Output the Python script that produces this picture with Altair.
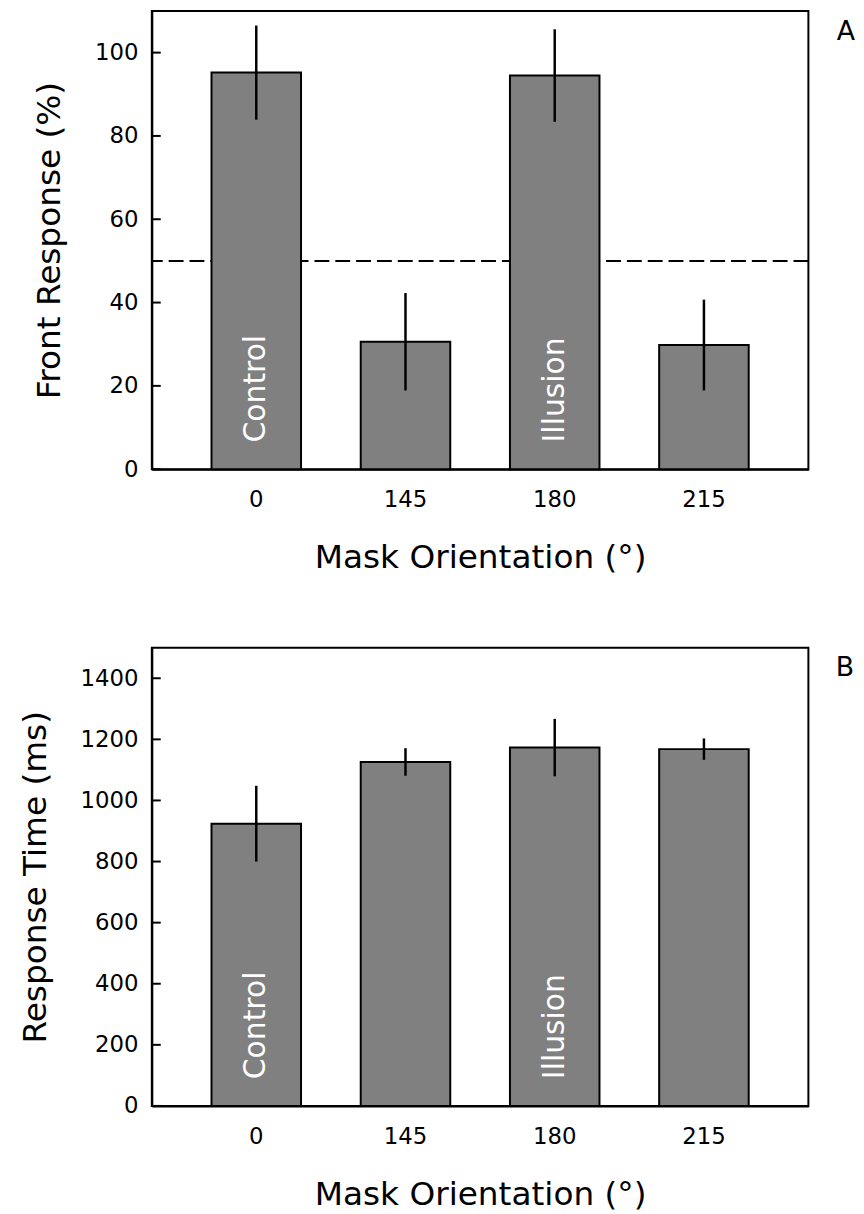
import altair as alt
import pandas as pd

orientation = ["0", "145", "180", "215"]
bar_labels = ["Control", "", "Illusion", ""]
front_mean = [95.2, 30.6, 94.5, 29.8]
front_err = [11.3, 11.7, 11.1, 10.9]
rt_mean = [924, 1126, 1173, 1168]
rt_err = [124, 45, 94, 35]
front_ticks = [0, 20, 40, 60, 80, 100]
rt_ticks = [0, 200, 400, 600, 800, 1000, 1200, 1400]
chance_level = [50]

FONT = "DejaVu Sans"
W, H = 662, 462


def panel(mean, err, ticks, domain, ytitle, letter, chance=None):
    df = pd.DataFrame({
        "orientation": orientation,
        "mean": mean,
        "lo": [m - e for m, e in zip(mean, err)],
        "hi": [m + e for m, e in zip(mean, err)],
        "label": bar_labels,
    })
    yscale = alt.Scale(domain=domain, nice=False, zero=True)
    yaxis = alt.Axis(title=ytitle, values=ticks, format="d", ticks=False, grid=False,
                     labelPadding=14, titlePadding=28, labelFontSize=23,
                     titleFontSize=33, domainColor="black", domainWidth=2,
                     labelColor="black", titleColor="black",
                     labelFont=FONT, titleFont=FONT, titleFontWeight="normal")
    xaxis = alt.Axis(title="Mask Orientation (°)", labelAngle=0, ticks=False,
                     labelPadding=20, titlePadding=30, labelFontSize=23,
                     titleFontSize=33, domainColor="black", domainWidth=2,
                     labelColor="black", titleColor="black",
                     labelFont=FONT, titleFont=FONT, titleFontWeight="normal")
    xscale = alt.Scale(paddingInner=0.4, paddingOuter=0.4)
    xenc = alt.X("orientation:N", sort=orientation, scale=xscale, axis=xaxis)
    base = alt.Chart(df)
    bars = base.mark_bar(color="#808080", stroke="black", strokeWidth=2).encode(
        x=xenc,
        y=alt.Y("mean:Q", scale=yscale, axis=yaxis),
    )
    errs = base.mark_rule(color="black", strokeWidth=2.5).encode(
        x=xenc,
        y=alt.Y("lo:Q", scale=yscale, axis=yaxis),
        y2="hi:Q",
    )
    texts = base.transform_filter(alt.datum.label != "").mark_text(
        angle=270, align="left", baseline="middle", dx=27, color="white",
        fontSize=30, font=FONT,
    ).encode(
        x=xenc,
        y=alt.datum(0),
        text="label:N",
    )
    tdf = pd.DataFrame({"v": ticks})
    tickmarks = alt.Chart(tdf).mark_rule(color="black", strokeWidth=2).encode(
        y=alt.Y("v:Q", scale=yscale, axis=yaxis),
        x=alt.value(0), x2=alt.value(9),
    )
    layers = []
    if chance is not None:
        cdf = pd.DataFrame({"c": chance})
        layers.append(alt.Chart(cdf).mark_rule(color="black", strokeWidth=2,
                                               strokeDash=[15, 6]).encode(
            y=alt.Y("c:Q", scale=yscale, axis=yaxis)))
    layers += [bars, errs, texts, tickmarks]
    return alt.layer(*layers).properties(
        width=W, height=H,
        title=alt.TitleParams(letter, orient="right", angle=0, anchor="start",
                              align="left", baseline="top", offset=9, dy=8,
                              fontSize=27, font=FONT, fontWeight="normal",
                              color="black"),
    )


a = panel(front_mean, front_err, front_ticks, [0, 110], "Front Response (%)", "A",
          chance=chance_level)
b = panel(rt_mean, rt_err, rt_ticks, [0, 1500], "Response Time (ms)", "B")

chart = alt.vconcat(a, b, spacing=72).properties(
    padding={"left": 10, "top": -3, "right": 0, "bottom": 0}
).configure(font=FONT).configure_view(stroke="black", strokeWidth=2)

chart.save("out.html", embed_options={"renderer": "svg", "actions": False})
